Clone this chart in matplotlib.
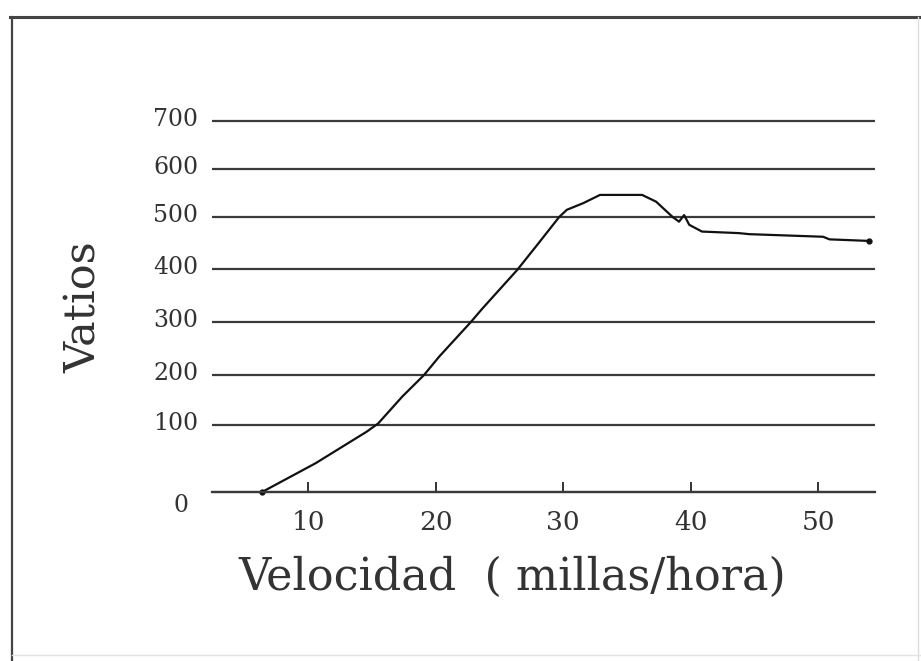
import matplotlib
matplotlib.use("Agg")
import matplotlib.pyplot as plt
import matplotlib.transforms as mtransforms
import numpy as np
from matplotlib.lines import Line2D

# potencia vs velocidad
velocidad = [6.4, 10.6, 14.6, 15.5, 17.4, 19.1, 20.3, 22.7, 23.7, 26.4, 27.9,
             29.7, 30.3, 31.6, 32.9, 36.2, 37.3, 38.6, 39.1, 39.5, 39.9,
             40.9, 43.8, 44.6, 50.4, 50.9, 54.0]
vatios = [0, 43, 90, 103, 157, 200, 235, 298, 326, 398, 444,
          500, 515, 529, 546, 546, 532, 500, 491, 504, 485,
          472, 469, 467, 462, 457, 454]

y_ticks = [0, 100, 200, 300, 400, 500, 600, 700]
y_labels = ["", "100", "200", "300", "400", "500", "600", "700"]
x_ticks = [10, 20, 30, 40, 50]

# the original axis is hand drawn: 0-100 gap is wider than the rest
grid_px = [0, 67, 117, 170, 223, 275, 323, 371]


def interp_ext(v, xs, ys):
    v = np.asarray(v, dtype=float)
    out = np.interp(v, xs, ys)
    lo = ys[0] + (v - xs[0]) * (ys[1] - ys[0]) / (xs[1] - xs[0])
    hi = ys[-1] + (v - xs[-1]) * (ys[-1] - ys[-2]) / (xs[-1] - xs[-2])
    out = np.where(v < xs[0], lo, out)
    out = np.where(v > xs[-1], hi, out)
    return out


fwd = lambda v: interp_ext(v, y_ticks, grid_px)
inv = lambda v: interp_ext(v, grid_px, y_ticks)

plt.rcParams["font.family"] = "DejaVu Serif"
ink = "#333333"

ylo, yhi = -10, 710
pad_lo = -float(fwd(ylo))
pad_hi = float(fwd(yhi)) - grid_px[-1]

fig = plt.figure(figsize=(9.21, 6.61), dpi=100)
ax = fig.add_axes([212 / 921, (169 - pad_lo) / 661, 663 / 921,
                   (371 + pad_lo + pad_hi) / 661])
ax.set_yscale("function", functions=(fwd, inv))
ax.set_xlim(2.47, 54.47)
ax.set_ylim(ylo, yhi)

for sp in ["top", "right", "left"]:
    ax.spines[sp].set_visible(False)
ax.spines["bottom"].set_position(("data", 0))
ax.spines["bottom"].set_color("#3a3a3a")
ax.spines["bottom"].set_linewidth(1.6)

ax.set_yticks(y_ticks)
ax.set_yticklabels(y_labels)
ax.yaxis.grid(True, color="#3a3a3a", linewidth=1.6)
ax.tick_params(axis="y", length=0, pad=10, labelsize=17, labelcolor=ink)
shift = mtransforms.ScaledTranslation(0, 1 / 72, fig.dpi_scale_trans)
for lab in ax.get_yticklabels():
    lab.set_verticalalignment("center")
    lab.set_transform(lab.get_transform() + shift)

ax.set_xticks(x_ticks)
ax.tick_params(axis="x", direction="in", length=7, width=1.4, color=ink,
               pad=13, labelsize=19, labelcolor=ink)
ax.set_axisbelow(True)

ax.annotate("0", xy=(0, 0), xycoords=ax.get_yaxis_transform(),
            xytext=(-22, -10), textcoords="offset points",
            ha="center", va="center", fontsize=17, color=ink)

ax.plot(velocidad, vatios, color="#111111", linewidth=1.6, clip_on=False)
ax.plot([velocidad[0], velocidad[-1]], [vatios[0], vatios[-1]], "o",
        color="#111111", markersize=3.5, clip_on=False)

fig.text(512 / 921, 1 - 577 / 661, "Velocidad  ( millas/hora)", ha="center",
         va="center", fontsize=32, color=ink)
fig.text(84 / 921, 1 - 307 / 661, "Vatios", rotation=90, ha="center",
         va="center", fontsize=31, color=ink)

# marco del escaneo
fig.add_artist(Line2D([10 / 921, 1], [1 - 17 / 661] * 2, color="#444444",
                      linewidth=2.2, transform=fig.transFigure))
fig.add_artist(Line2D([12 / 921] * 2, [0, 1 - 17 / 661], color="#444444",
                      linewidth=1.6, transform=fig.transFigure))
fig.add_artist(Line2D([918 / 921] * 2, [0, 1 - 17 / 661], color="#dddddd",
                      linewidth=1.0, transform=fig.transFigure))
fig.add_artist(Line2D([12 / 921, 1], [6 / 661] * 2, color="#e3e3e3",
                      linewidth=1.0, transform=fig.transFigure))

fig.savefig("out.png", dpi=100)
